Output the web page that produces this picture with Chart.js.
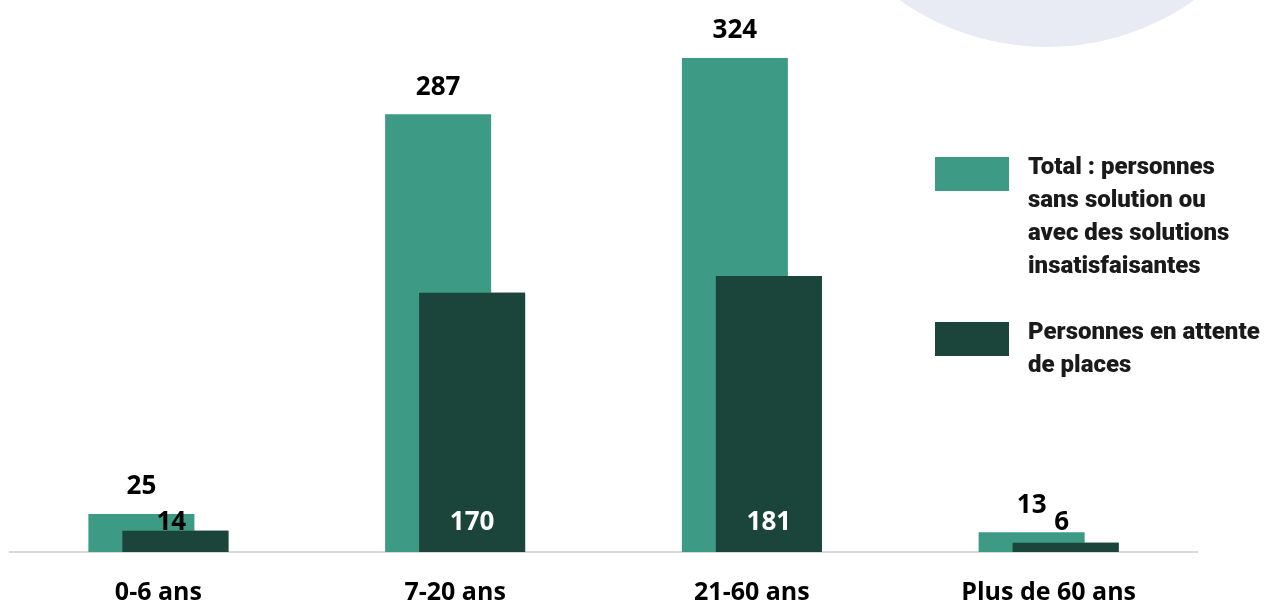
<!DOCTYPE html>
<html>
<head>
<meta charset="utf-8">
<script src="https://cdn.jsdelivr.net/npm/chart.js@4"></script>
<style>
  html, body { margin: 0; padding: 0; background: #fff; }
  #wrap { position: relative; width: 1264px; height: 602px; overflow: hidden; }
  #blob { position: absolute; left: 792px; top: -463px; width: 510px; height: 510px; border-radius: 50%; background: #e8eaf4; }
  #chart { position: absolute; left: 0; top: 0; }
  #legend { position: absolute; left: 935px; top: 150px; font-family: Roboto, sans-serif; font-weight: 900; font-size: 24px; line-height: 33px; color: #1a1a1a; }
  .item { display: flex; align-items: flex-start; }
  .item + .item { margin-top: 33px; }
  .swatch { width: 74px; height: 34px; margin-top: 7px; margin-right: 19px; flex: none; }
</style>
</head>
<body>
<div id="wrap">
  <div id="blob"></div>
  <canvas id="chart" width="1264" height="602"></canvas>
  <div id="legend"></div>
</div>
<script>
// donnees
const categories = ['0-6 ans', '7-20 ans', '21-60 ans', 'Plus de 60 ans'];
const totalData = [25, 287, 324, 13];
const attenteData = [14, 170, 181, 6];
const totalLabel = ['Total : personnes', 'sans solution ou', 'avec des solutions', 'insatisfaisantes'];
const attenteLabel = ['Personnes en attente', 'de places'];

const teal = '#3d9a85';
const dark = '#1b453b';

// barres sombres au premier plan + etiquettes de valeurs
const valueLabels = {
  id: 'valueLabels',
  afterDatasetsDraw(chart) {
    chart.getDatasetMeta(1).controller.draw();
    const ctx = chart.ctx;
    ctx.save();
    ctx.font = 'bold 26px "Open Sans", sans-serif';
    ctx.textAlign = 'center';
    ctx.textBaseline = 'middle';
    const base = chart.scales.y.getPixelForValue(0);
    chart.getDatasetMeta(0).data.forEach((bar, i) => {
      ctx.fillStyle = '#000';
      ctx.fillText(totalData[i], bar.x, bar.y - 27);
    });
    chart.getDatasetMeta(1).data.forEach((bar, i) => {
      const big = base - bar.y > 40;
      ctx.fillStyle = big ? '#fff' : '#000';
      ctx.fillText(attenteData[i], bar.x - (big ? 0 : 4), base - 29);
    });
    ctx.restore();
  }
};

const ctx = document.getElementById('chart').getContext('2d');
const chart = new Chart(ctx, {
  type: 'bar',
  data: {
    labels: categories,
    datasets: [
      { label: totalLabel.join(' '), data: totalData, backgroundColor: teal },
      { label: attenteLabel.join(' '), data: attenteData, backgroundColor: dark }
    ]
  },
  options: {
    responsive: false,
    animation: false,
    categoryPercentage: 0.229,
    barPercentage: 3.12,
    layout: { padding: { left: 10, right: 67, top: 0, bottom: -23 } },
    plugins: {
      legend: { display: false },
      tooltip: { enabled: false }
    },
    scales: {
      x: {
        grid: { display: false },
        border: { color: '#d9d9d9', width: 2 },
        ticks: {
          color: '#000',
          padding: 20,
          font: { family: '"Open Sans", sans-serif', size: 25, weight: 'bold', lineHeight: 1 }
        }
      },
      y: { display: false, min: 0, max: 362 }
    }
  },
  plugins: [valueLabels]
});

// legende
const legend = document.getElementById('legend');
[[teal, totalLabel], [dark, attenteLabel]].forEach(([color, lines]) => {
  const item = document.createElement('div');
  item.className = 'item';
  const sw = document.createElement('div');
  sw.className = 'swatch';
  sw.style.background = color;
  const txt = document.createElement('div');
  txt.innerHTML = lines.join('<br>');
  item.appendChild(sw);
  item.appendChild(txt);
  legend.appendChild(item);
});
</script>
</body>
</html>
